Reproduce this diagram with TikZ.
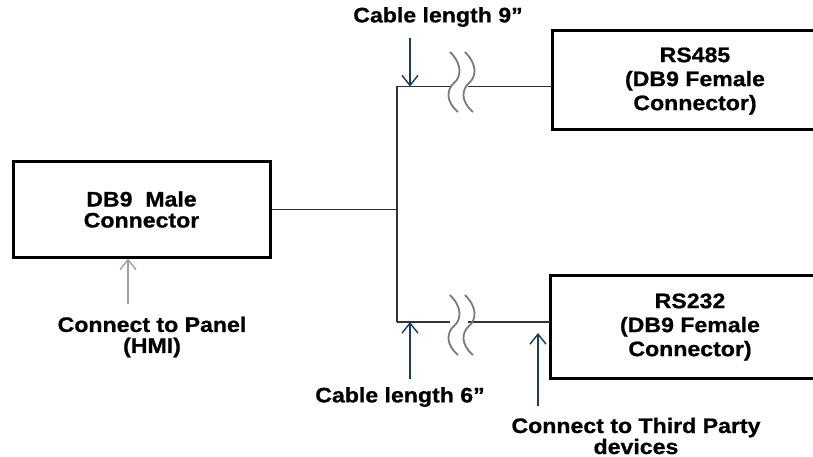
\documentclass[tikz,border=0pt]{standalone}
\usepackage{fontspec}
\setmainfont{Liberation Sans}[FakeStretch=1.1, BoldFeatures={FakeBold=0.8}]
\usetikzlibrary{arrows.meta}
\definecolor{arrblue}{HTML}{1F3A5F}
\definecolor{linegray}{HTML}{333333}
\definecolor{brkgray}{HTML}{7A7A7A}
\definecolor{hmigray}{HTML}{A0A0A0}
\tikzset{
  box/.style={draw=black, line width=3pt, inner sep=0pt, align=center,
    font=\fontsize{21}{24}\selectfont\bfseries},
  boxtxt/.style={align=center, inner sep=0pt, font=\fontsize{21}{24}\selectfont\bfseries},
  lbl/.style={align=center, inner sep=0pt, font=\fontsize{21}{21}\selectfont\bfseries},
  wire/.style={draw=linegray, line width=1.4pt},
  brkline/.style={draw=brkgray, line width=1.8pt},
  blarrow/.style={draw=arrblue, line width=1.4pt, -{Straight Barb[length=10pt,width=16pt,line width=1.4pt]}},
  grarrow/.style={draw=hmigray, line width=1.4pt, -{Straight Barb[length=10pt,width=16pt,line width=1.4pt]}},
  brk/.pic={\draw[brkline] (-4,-31) .. controls (9,-18) and (7,-6) .. (0,0) .. controls (-7,6) and (-9,18) .. (4,29);}
}
\begin{document}
\begin{tikzpicture}[x=1pt,y=-1pt]
\useasboundingbox (0,0) rectangle (813,457);
\clip (0,0) rectangle (813,457);
% boxes
\node[box, minimum width=257pt, minimum height=95pt, font=\fontsize{21}{21}\selectfont\bfseries] (db9) at (141.5,209.5) {DB9\ \ Male\\Connector};
% right-hand boxes run off the right edge of the picture
\draw[line width=3pt] (552,31) rectangle (900,130);
\node[boxtxt] (rs485) at (695,81) {RS485\\(DB9 Female\\Connector)};
\coordinate (rs485w) at (552,86.5);
\draw[line width=3pt] (550,275) rectangle (900,378);
\node[boxtxt] (rs232) at (690,327) {RS232\\(DB9 Female\\Connector)};
\coordinate (rs232w) at (550,322);
% junction coordinates
\coordinate (j) at (397,209.5);
\coordinate (jt) at (397,86.5);
\coordinate (jb) at (397,322);
\coordinate (t1) at (450,86.5);
\coordinate (t2) at (468,86.5);
\coordinate (b1) at (450,322);
\coordinate (b2) at (468,322);
% wires
\draw[wire] (db9.east |- j) -- (j);
\draw[wire] (jt) -- (jb);
\draw[wire] (jt) -- (t1);
\draw[wire] (t2) -- (rs485w);
\draw[wire] (jb) -- (b1);
\draw[wire] (b2) -- (rs232w);
% cable breaks
\pic at (454,83) {brk};
\pic at (469,83) {brk};
\pic at (454,326) {brk};
\pic at (469,326) {brk};
% labels
\node[lbl] (l9) at (438,17) {Cable length 9”};
\node[lbl] (l6) at (400,397) {Cable length 6”};
\node[lbl] (lp) at (152,337) {Connect to Panel\\(HMI)};
\node[lbl] (lt) at (636,436) {Connect to Third Party\\devices};
% arrows
\coordinate (a9s) at (410,38);
\coordinate (a9e) at (410,86.5);
\coordinate (a6s) at (410,379);
\coordinate (a6e) at (410,322);
\coordinate (ats) at (538,406);
\coordinate (ate) at (538,333);
\coordinate (aps) at (128,304);
\draw[blarrow] (a9s) -- (a9e);
\draw[blarrow] (a6s) -- (a6e);
\draw[blarrow] (ats) -- (ate);
\draw[grarrow] (aps) -- (aps |- db9.south);
\end{tikzpicture}
\end{document}
